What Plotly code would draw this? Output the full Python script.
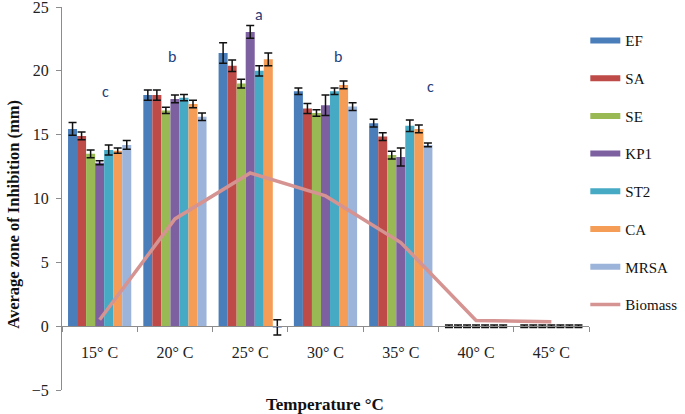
import plotly.graph_objects as go

categories = ["15° C", "20° C", "25° C", "30° C", "35° C", "40° C", "45° C"]
series_names = ["EF", "SA", "SE", "KP1", "ST2", "CA", "MRSA"]
colors = ["#4A7EBB", "#BE4B48", "#98B954", "#7D60A0", "#46AAC5", "#F59D56", "#9CB4DA"]

EF = [15.45, 18.1, 21.4, 18.4, 15.9, 0, 0]
SA = [14.9, 18.1, 20.4, 17.05, 14.85, 0, 0]
SE = [13.5, 16.9, 19.0, 16.7, 13.4, 0, 0]
KP1 = [12.8, 17.8, 23.05, 17.3, 13.25, 0, 0]
ST2 = [13.8, 17.9, 20.0, 18.4, 15.7, 0, 0]
CA = [13.75, 17.4, 20.9, 18.9, 15.45, 0, 0]
MRSA = [14.2, 16.4, -0.1, 17.2, 14.2, 0, 0]

EF_err = [0.5, 0.4, 0.8, 0.25, 0.3, 0.1, 0.1]
SA_err = [0.3, 0.4, 0.45, 0.4, 0.3, 0.1, 0.1]
SE_err = [0.3, 0.25, 0.35, 0.25, 0.3, 0.1, 0.1]
KP1_err = [0.15, 0.3, 0.5, 0.8, 0.7, 0.1, 0.1]
ST2_err = [0.4, 0.25, 0.4, 0.25, 0.45, 0.1, 0.1]
CA_err = [0.2, 0.3, 0.5, 0.3, 0.3, 0.1, 0.1]
MRSA_err = [0.35, 0.3, 0.6, 0.3, 0.15, 0.1, 0.1]

biomass = [0.5, 8.4, 12.0, 10.2, 6.55, 0.45, 0.35]

letters = ["c", "b", "a", "b", "c"]
letter_y = [18.4, 21.1, 24.4, 21.1, 18.8]
letter_cats = ["15° C", "20° C", "25° C", "30° C", "35° C"]
letter_shift = [6, -3, 9, 12, 30]

values = [EF, SA, SE, KP1, ST2, CA, MRSA]
errors = [EF_err, SA_err, SE_err, KP1_err, ST2_err, CA_err, MRSA_err]

SERIF = "Liberation Serif, Times New Roman, serif"

fig = go.Figure()
for i, (name, vals, errs) in enumerate(zip(series_names, values, errors)):
    fig.add_trace(go.Bar(
        x=categories, y=vals, name=name, showlegend=False,
        marker=dict(color=colors[i], line=dict(width=0)),
        error_y=dict(type="data", array=errs, visible=True, color="#111111", thickness=1.5, width=4),
        legendgroup=name,
    ))
    # legend key drawn as a wide bar swatch
    fig.add_trace(go.Scatter(
        x=[None], y=[None], name=name, mode="lines",
        line=dict(color=colors[i], width=6), legendgroup=name, showlegend=True,
    ))

fig.add_trace(go.Scatter(
    x=categories, y=biomass, name="Biomass", mode="lines",
    line=dict(color="#D59391", width=3.5), legendgroup="Biomass",
))

for t, c, yv, s in zip(letters, letter_cats, letter_y, letter_shift):
    fig.add_annotation(x=c, y=yv, text=t, showarrow=False, xshift=s,
                       font=dict(family="Carlito, Open Sans, sans-serif", size=16, color="#27407A"))

fig.add_annotation(text="<b>Average zone of Inhibition (mm)</b>", xref="paper", yref="paper",
                   x=-0.113, y=0.46, textangle=-90, showarrow=False,
                   font=dict(family=SERIF, size=16.5, color="#111111"))
fig.add_annotation(text="<b>Temperature °C</b>", xref="paper", yref="paper",
                   x=0.499, y=-0.039, yanchor="middle", showarrow=False,
                   font=dict(family=SERIF, size=17, color="#111111"))

fig.update_layout(
    width=685, height=414,
    margin=dict(l=62, r=96, t=7, b=24, autoexpand=False),
    paper_bgcolor="white", plot_bgcolor="white",
    barmode="group", bargap=0.16, bargroupgap=0,
    font=dict(family=SERIF, size=14, color="#222222"),
    showlegend=True,
    legend=dict(x=0.993, xanchor="left", y=0.955, yanchor="top",
                font=dict(family=SERIF, size=15, color="#111111"),
                tracegroupgap=15.2, traceorder="grouped", itemwidth=30,
                bgcolor="rgba(0,0,0,0)"),
    xaxis=dict(anchor="free", position=1/6, showline=True, linecolor="#8c8c8c", linewidth=1,
               ticks="outside", tickson="boundaries", ticklen=5, tickcolor="#8c8c8c",
               showgrid=False, zeroline=False, automargin=False, ticklabelstandoff=12,
               tickfont=dict(family=SERIF, size=16, color="#222222")),
    yaxis=dict(range=[-5, 25], tickvals=[-5, 0, 5, 10, 15, 20, 25], showline=True,
               linecolor="#8c8c8c", linewidth=1, ticks="outside", ticklen=5, tickcolor="#8c8c8c",
               showgrid=False, zeroline=False, automargin=False, ticklabeloverflow="allow",
               ticklabelstandoff=4,
               tickfont=dict(family=SERIF, size=16, color="#222222")),
)

fig.write_html("out.html", config={"displayModeBar": False},
               post_script="document.body.style.margin='0';document.body.style.overflow='hidden';")
